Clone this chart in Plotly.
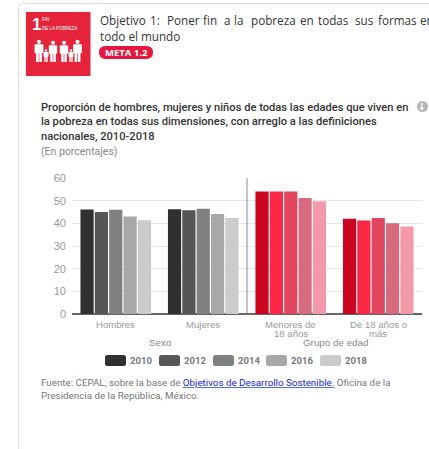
import plotly.graph_objects as go

categories = ["Hombres", "Mujeres", "Menores de<br>18 años", "De 18 años o<br>más"]
years = ["2010", "2012", "2014", "2016", "2018"]
v2010 = [46.1, 46.2, 54.0, 42.0]
v2012 = [45.0, 45.8, 54.0, 41.3]
v2014 = [46.0, 46.4, 54.0, 42.3]
v2016 = [43.0, 44.1, 51.2, 40.0]
v2018 = [41.4, 42.3, 49.7, 38.6]
series = [v2010, v2012, v2014, v2016, v2018]
greys = ["#303030", "#565656", "#808080", "#a8a8a8", "#cbcbcb"]
reds = ["#cc0520", "#fb2745", "#e2455e", "#d66a7e", "#f29aa9"]
yticks = [0, 10, 20, 30, 40, 50, 60]

L, R, T, B = 72, 422, 178, 314
W, H = 429, 449
px = lambda x: (x - L) / (R - L)
py = lambda y: (B - y) / (B - T)

fig = go.Figure()
for name, vals, g, r in zip(years, series, greys, reds):
    fig.add_trace(go.Bar(
        x=categories, y=vals, name=name, showlegend=False,
        marker=dict(color=[g, g, r, r], line=dict(width=0)),
    ))

shapes = []
annos = []


def rect(x0, y0, x1, y1, fill, line=None, lw=0):
    shapes.append(dict(type="rect", xref="paper", yref="paper", layer="above",
                       x0=px(x0), x1=px(x1), y0=py(y0), y1=py(y1),
                       fillcolor=fill, line=dict(color=line or fill, width=lw)))


def rrect(x0, y0, x1, y1, r, fill=None, line=None, lw=0, layer="above"):
    p = (f"M{px(x0+r)},{py(y0)} L{px(x1-r)},{py(y0)} Q{px(x1)},{py(y0)} {px(x1)},{py(y0+r)} "
         f"L{px(x1)},{py(y1-r)} Q{px(x1)},{py(y1)} {px(x1-r)},{py(y1)} "
         f"L{px(x0+r)},{py(y1)} Q{px(x0)},{py(y1)} {px(x0)},{py(y1-r)} "
         f"L{px(x0)},{py(y0+r)} Q{px(x0)},{py(y0)} {px(x0+r)},{py(y0)} Z")
    shapes.append(dict(type="path", xref="paper", yref="paper", layer=layer, path=p,
                       fillcolor=fill or "rgba(0,0,0,0)",
                       line=dict(color=line or "rgba(0,0,0,0)", width=lw)))


def text(x, y, s, size, color, family="Roboto", anchor="left", weight=None):
    annos.append(dict(xref="paper", yref="paper", x=px(x), y=py(y), text=s, showarrow=False,
                      xanchor=anchor, yanchor="middle", align=anchor, borderpad=0, borderwidth=0,
                      font=dict(size=size, color=color, family=family,
                                **({"weight": weight} if weight else {}))))


# card outline
rrect(18.5, 3.5, 440, 470, 4, line="#dcdcdc", lw=1, layer="below")

# goal icon
rect(26, 12, 90.5, 76, "#e5243b")
text(32, 24, "<b>1</b>", 17, "white", "Liberation Sans")
text(42, 19.5, "FIN", 4.5, "white", "Liberation Sans")
text(42, 28, "DE LA POBREZA", 4.5, "white", "Liberation Sans")
people = [(39, 4.2), (46, 2.4), (53, 4.0), (64, 4.0), (71, 2.4), (77.5, 4.2)]
bot = 62
for cx, s in people:
    h = s * 5.2
    top = bot - h
    shapes.append(dict(type="circle", xref="paper", yref="paper", fillcolor="white", line=dict(width=0),
                       x0=px(cx - s * .5), x1=px(cx + s * .5),
                       y0=py(top + s * .9), y1=py(top - s * .1)))
    rrect(cx - s * 1.05, top + s, cx + s * 1.05, top + h * .6, 1, fill="white")
    rect(cx - s * .7, top + h * .55, cx - .3, bot, "white")
    rect(cx + .3, top + h * .55, cx + s * .7, bot, "white")

# header
O = "Open Sans"
title_words = ["Objetivo", "1:", "Poner", "fin", "a", "la", "pobreza", "en", "todas", "sus", "formas", "en"]
title_x = [100, 150, 167, 203, 224, 234, 251, 300, 318, 355, 378, 420]
for wx, word in zip(title_x, title_words):
    text(wx, 20, word, 11.7, "#333333", O)
text(100, 36, "todo el mundo", 11.7, "#333333", O)
rrect(99, 46, 153, 59, 6.5, fill="#e5173f")
text(126, 52.5, "<b>META 1.2</b>", 9.5, "white", O, "center")

# heading
text(41, 107, "Proporción de hombres, mujeres y niños de todas las edades que viven en", 11.15, "#333333", weight=500)
text(41, 121.5, "la pobreza en todas sus dimensiones, con arreglo a las definiciones", 11.15, "#333333", weight=500)
text(41, 136, "nacionales, 2010-2018", 11.15, "#333333", weight=500)
text(41, 151, "(En porcentajes)", 10.5, "#888888")
shapes.append(dict(type="circle", xref="paper", yref="paper", fillcolor="#b5b5b5", line=dict(width=0),
                   x0=px(417), x1=px(428), y0=py(101), y1=py(112)))
text(422.5, 106.5, "<b>↓</b>", 9.5, "white", "DejaVu Sans", "center")

# divider between the two groups
shapes.append(dict(type="line", xref="x", yref="paper", x0=1.5, x1=1.5, y0=0, y1=1,
                   line=dict(color="#8a8a8a", width=1)))

# category labels (tight line spacing)
for i, cat in enumerate(categories):
    for j, part in enumerate(cat.split("<br>")):
        annos.append(dict(xref="x", yref="paper", x=i, y=py(324.5 + 9 * j), text=part, showarrow=False,
                          xanchor="center", yanchor="middle", borderpad=0,
                          font=dict(size=9.6, color="#999999", family="Liberation Sans")))

# group labels
text(160, 342.5, "Sexo", 9.8, "#888888", "Liberation Sans", "center")
text(335, 342.5, "Grupo de edad", 9.8, "#888888", "Liberation Sans", "center")

# legend
for x, y_, c in zip([105, 159, 213, 266, 320], years, greys):
    rrect(x, 355, x + 21, 366, 2.5, fill=c)
    text(x + 24.5, 360, f"<b>{y_}</b>", 9.6, "#777777")

# source
text(41, 382, 'Fuente: CEPAL, sobre la base de <a href="https://www.gob.mx/agenda2030"><u><span style="color:#2020f0">Objetivos de Desarrollo Sostenible.</span></u></a> Oficina de la',
     9.8, "#777777")
text(41, 395, "Presidencia de la República, México.", 9.8, "#777777")

fig.update_layout(
    width=W, height=H, autosize=False,
    margin=dict(l=L, r=W - R, t=T, b=H - B),
    paper_bgcolor="white", plot_bgcolor="white",
    barmode="group", bargap=0.18, bargroupgap=0.08,
    showlegend=False, shapes=shapes, annotations=annos,
    font=dict(family="Roboto", color="#999999"),
    xaxis=dict(showticklabels=False, showgrid=False, ticks="",
               showline=False, zeroline=False, automargin=False),
    yaxis=dict(range=[0, 60], tickvals=yticks, ticklabelstandoff=5,
               tickfont=dict(size=11, color="#999999", family="Liberation Sans"),
               gridcolor="#e6e6e6", gridwidth=1, zeroline=True, zerolinecolor="#666666",
               zerolinewidth=2, showline=False, ticks="", automargin=False),
)
fig.write_html("out.html", config={"displayModeBar": False},
               post_script="document.body.style.margin='0';document.body.style.overflow='hidden';")
